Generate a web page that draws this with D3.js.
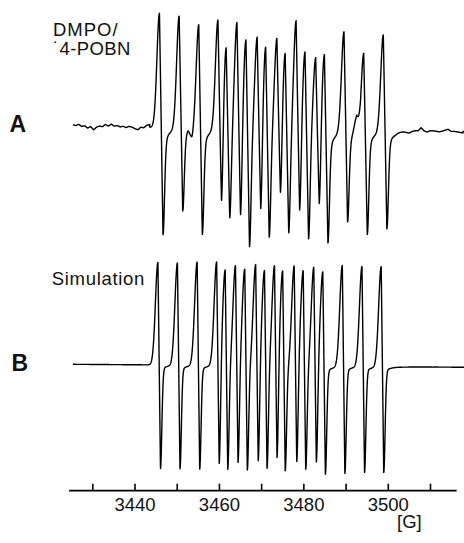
<!DOCTYPE html>
<html><head><meta charset="utf-8">
<script src="https://cdn.jsdelivr.net/npm/d3@7/dist/d3.min.js"></script>
<style>html,body{margin:0;padding:0;background:#fff;} svg{display:block;}</style>
</head><body>
<script>
// ---------- data ----------
const tickValues = [3430, 3440, 3450, 3460, 3470, 3480, 3490, 3500, 3510];
const tickLabels = [3440, 3460, 3480, 3500];
const axisUnit = "[G]";
const axisSpan = [3424.5, 3516.3];
const fieldRange = [3425.4, 3518.1];

// Spectrum A (experimental): line centres (G), positive / negative lobe heights
const linesAField = [3446.33, 3451.00, 3453.15, 3455.64, 3460.19, 3462.13, 3464.69, 3466.82, 3469.48, 3471.49,
                     3474.15, 3476.11, 3478.70, 3480.81, 3483.34, 3485.40, 3490.05, 3493.10, 3494.72, 3499.36];
const linesAUp   = [1.01, 1.00, 0.03, 0.93, 0.97, 0.79, 0.99, 0.86, 0.87, 0.81,
                    0.86, 0.75, 1.02, 0.76, 0.70, 0.74, 0.89, 0.15, 0.70, 0.86];
const linesADown = [0.95, 0.73, 0.07, 0.93, 0.78, 0.77, 0.82, 1.01, 0.79, 0.92,
                    0.66, 0.89, 0.76, 0.94, 0.71, 0.96, 0.80, 0.03, 0.91, 0.86];
const baselineA = [0, -0.046];
const noiseALeft  = [0.015, 0.006, 0.018, 0, 0.006, -0.014, 0, -0.029, -0.005, 0.006, 0, 0.020, 0.006, 0.024,
                     0.006, 0.012, 0, 0.006, -0.005, 0.006, 0, -0.014, -0.023, 0, -0.005, 0.018, 0.024];
const noiseARight = [-0.004, 0, 0.004, 0.003, -0.004, -0.013, 0, 0.007, 0.004, 0.031, 0.004, -0.007,
                     0.004, 0.004, 0, -0.007, 0, 0.009, 0.018, 0, 0, -0.004, -0.009, -0.013];
const noiseALeftStart = 3425.4, noiseARightStart = 3501.5;

// Spectrum B (simulation)
const linesBField = [3445.85, 3450.47, 3455.14, 3459.76, 3461.78, 3464.22, 3466.42, 3469.00, 3471.09,
                     3473.46, 3475.40, 3478.13, 3480.26, 3482.77, 3484.91, 3489.53, 3494.19, 3498.74];
const linesBUp   = [1.00, 1.00, 1.01, 1.01, 0.95, 0.99, 0.96, 1.00, 0.95,
                    0.99, 0.95, 0.99, 0.95, 0.98, 0.94, 0.99, 0.98, 0.98];
const linesBDown = [1.01, 1.01, 1.01, 1.01, 1.01, 0.96, 1.01, 0.96, 1.00,
                    0.96, 1.01, 0.96, 1.00, 0.96, 1.04, 1.04, 1.03, 1.03];
const baselineB = [0, -0.029];

// ---------- layout ----------
const W = 464, H = 543;
const x = d3.scaleLinear().domain([3430, 3510]).range([92.3, 430]);
const yA = d3.scaleLinear().domain([-1, 1]).range([126.3 + 113, 126.3 - 113]);
const yB = d3.scaleLinear().domain([-1, 1]).range([364.3 + 102.5, 364.3 - 102.5]);
const axisY = 490.7;
const FONT = "'Liberation Sans', Arial, Helvetica, sans-serif";

const shapeA = {p: 0.42, sL: 0.85, sR: 0.5, t: 0.15, sT: 1.2};
const shapeB = {p: 0.30, sL: 0.85, sR: 0.45, t: 0.04, sT: 1.2};

function lineShape(d, up, down, s) {
  if (d <= -s.p) { const u = (d + s.p) / s.sL; return up * Math.exp(-u * u); }
  if (d < s.p) return up + (d + s.p) / (2 * s.p) * (-down - up);
  const e = d - s.p;
  const g = e / s.sR, l = e / s.sT;
  return -down * ((1 - s.t) * Math.exp(-g * g) + s.t / (1 + l * l));
}
function noiseAt(f, start, step, vals) {
  const i = (f - start) / step;
  if (i < 0 || i > vals.length - 1) return 0;
  const i0 = Math.floor(i), fr = i - i0;
  return i0 + 1 < vals.length ? vals[i0] * (1 - fr) + vals[i0 + 1] * fr : vals[i0];
}
const fields = d3.range(fieldRange[0], fieldRange[1] + 1e-9, 0.02);
function spectrum(pos, up, down, s, base, noise) {
  return fields.map(f => {
    let v = base[0] + (base[1] - base[0]) * (f - fieldRange[0]) / (fieldRange[1] - fieldRange[0]);
    for (let k = 0; k < pos.length; k++) {
      const d = f - pos[k];
      if (d > -6 && d < 12) v += lineShape(d, up[k], down[k], s);
    }
    if (noise) noise.forEach(n => { v += noiseAt(f, n.start, n.step, n.vals); });
    return [f, v];
  });
}
const specA = spectrum(linesAField, linesAUp, linesADown, shapeA, baselineA,
  [{start: noiseALeftStart, step: 0.7, vals: noiseALeft}, {start: noiseARightStart, step: 0.71, vals: noiseARight}]);
const specB = spectrum(linesBField, linesBUp, linesBDown, shapeB, baselineB, null);

const svg = d3.select("body").append("svg").attr("width", W).attr("height", H)
  .style("background", "#fff");

svg.append("path").datum(specA)
  .attr("d", d3.line().x(d => x(d[0])).y(d => yA(d[1])))
  .attr("fill", "none").attr("stroke", "#000").attr("stroke-width", 1.4).attr("stroke-linejoin", "round");
svg.append("path").datum(specB)
  .attr("d", d3.line().x(d => x(d[0])).y(d => yB(d[1])))
  .attr("fill", "none").attr("stroke", "#000").attr("stroke-width", 1.4).attr("stroke-linejoin", "round");

// axis
const ax = svg.append("g").attr("transform", `translate(0,${axisY})`)
  .call(d3.axisBottom(x).tickValues(tickValues).tickSizeInner(-7).tickSizeOuter(0).tickPadding(7)
    .tickFormat(d => tickLabels.includes(d) ? String(d) : ""));
ax.select(".domain").remove();
ax.selectAll(".tick line").attr("stroke", "#000").attr("stroke-width", 1.6);
ax.selectAll(".tick text").attr("fill", "#111").style("font-family", FONT).style("font-size", "18.5px");
ax.append("line").attr("x1", x(axisSpan[0])).attr("x2", x(axisSpan[1])).attr("y1", 0).attr("y2", 0)
  .attr("stroke", "#000").attr("stroke-width", 1.8);
svg.append("text").attr("x", 397).attr("y", 528.3).text(axisUnit)
  .style("font-family", FONT).style("font-size", "18.5px").attr("fill", "#111");

// labels
function label(t, px, py, size, weight, ls) {
  return svg.append("text").attr("x", px).attr("y", py).text(t)
    .style("font-family", FONT).style("font-size", size + "px").style("font-weight", weight || "normal")
    .style("letter-spacing", (ls || 0) + "px").attr("fill", "#111");
}
label("DMPO/", 53, 36, 18.5, "normal", 1.0);
label("\u02D94-POBN", 53, 55, 18.5, "normal", 0.4);
label("A", 9.5, 131.7, 23, "bold");
label("Simulation", 51.7, 285, 18.5, "normal", 0.7);
label("B", 11.5, 370.7, 23, "bold");
</script>
</body></html>
